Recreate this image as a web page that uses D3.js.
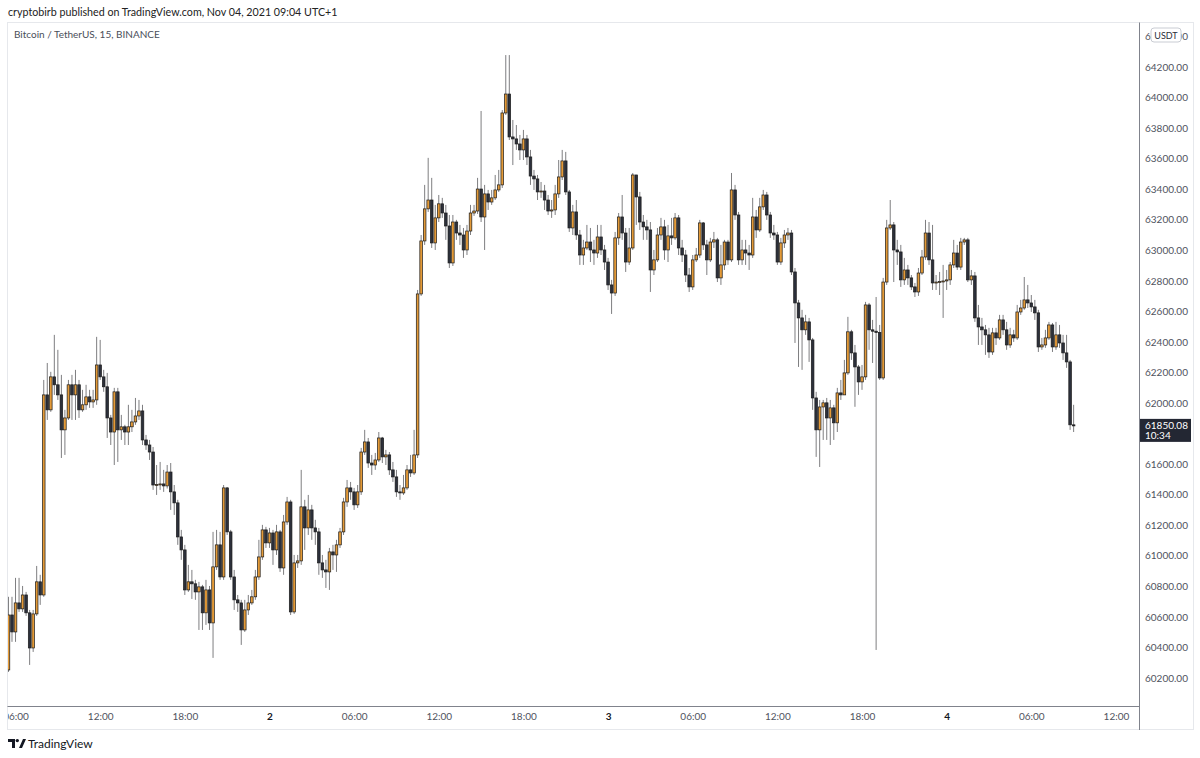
<!DOCTYPE html>
<html>
<head>
<meta charset="utf-8">
<script src="https://cdn.jsdelivr.net/npm/d3@7"></script>
<style>
body{margin:0;background:#fff;}
svg text{font-family:'Lato','Liberation Sans',sans-serif;}
</style>
</head>
<body>
<div id="canvas" class="canvas"></div>
<script>
// BTC/USDT 15m bars (Binance), times in UTC+1
var firstBar = '2021-11-01T05:30';
var firstOpen = 60252;

var closes = [
60612,60501,60691,60652,60743,60626,60396,60619,60829,60743,
62053,61955,62171,62119,62053,61824,61902,62119,62053,62119,
61955,61988,62040,62007,62020,62249,62171,62106,61902,61810,
62073,61824,61844,61810,61844,61876,61915,61948,61758,61725,
61679,61463,61466,61470,61457,61548,61418,61346,61123,61038,
60776,60829,60816,60763,60796,60626,60776,60560,60927,61071,
60861,61444,61156,60861,60711,60691,60514,60645,60691,60731,
60861,60992,61169,61084,61149,61038,61156,60920,61221,61352,
60632,60953,60966,61320,61182,61300,61182,61156,60953,60907,
60894,61025,61005,61071,61156,61352,61444,61418,61333,61418,
61679,61745,61607,61594,61627,61771,61647,61660,61562,61516,
61418,61411,61444,61562,61542,61660,62714,63061,63271,63329,
63048,63212,63304,63244,63159,62917,63185,63113,63100,63002,
63126,63244,63257,63401,63218,63369,63316,63343,63395,63428,
63899,64023,63742,63729,63696,63657,63729,63611,63486,63467,
63382,63388,63329,63257,63264,63369,63480,63585,63382,63146,
63251,63100,62969,63015,63054,63002,62982,63087,63002,62923,
62773,62720,63081,63218,63113,62923,63015,63493,63349,63185,
63153,63133,62871,62937,63100,63153,63002,63094,63081,63212,
63015,62969,62838,62760,62937,62969,63179,63035,62937,63054,
63068,62819,62904,63054,62937,63395,63231,62937,63002,62982,
62969,63218,63133,63284,63362,63231,63113,63100,62923,63048,
63100,63113,62858,62655,62557,62479,62531,62413,62033,61824,
61974,62001,61902,61968,61870,62066,62053,62197,62466,62328,
62236,62138,62171,62642,62479,62470,62462,62164,62792,63146,
63166,63002,62989,62806,62871,62819,62760,62727,62851,62956,
63113,62937,62786,62792,62795,62799,62806,62904,62982,62890,
63054,63068,62806,62832,62557,62498,62479,62446,62334,62459,
62426,62544,62479,62380,62446,62426,62596,62622,62675,62655,
62629,62590,62367,62380,62426,62511,62367,62446,62393,62328,
62269,61857,61850.08
];

var highs = [
60731,60731,60855,60855,60802,60763,60645,60645,60933,60875,
62151,62262,62204,62446,62348,62184,61955,62151,62184,62217,
62151,62086,62119,62086,62086,62433,62413,62217,62197,61922,
62099,62099,61922,61857,61988,61955,62033,62020,61988,61791,
61758,61712,61594,61614,61562,61594,61607,61463,61366,61169,
61071,60940,60907,60842,60829,60809,60842,60802,61156,61169,
61156,61463,61450,61169,60907,60743,60711,60711,60743,60776,
60907,61104,61202,61189,61182,61169,61202,61169,61267,61385,
61366,61005,61005,61562,61366,61398,61333,61235,61182,61005,
60973,61051,61071,61104,61182,61379,61496,61483,61444,61463,
61706,61824,61771,61660,61673,61810,61778,61693,61679,61614,
61562,61463,61529,61594,61660,61824,62740,63100,63428,63605,
63474,63297,63362,63343,63297,63231,63231,63199,63166,63146,
63166,63297,63297,63474,63912,63428,63395,63395,63493,63526,
63918,64278,64278,63853,63820,63755,63788,63755,63657,63526,
63493,63447,63428,63362,63329,63428,63591,63657,63644,63395,
63297,63329,63133,63068,63166,63146,63068,63166,63166,63035,
62950,62806,63120,63244,63362,63146,63146,63506,63493,63382,
63231,63199,63185,63002,63146,63212,63199,63166,63212,63244,
63231,63068,63002,62884,62969,63015,63199,63185,63068,63081,
63120,63081,63035,63068,63068,63506,63428,63251,63068,63068,
63035,63343,63264,63343,63395,63382,63251,63166,63120,63081,
63133,63146,63133,62884,62675,62610,62577,62557,62426,62073,
62020,62020,62033,62020,61988,62099,62151,62282,62564,62479,
62380,62249,62249,62662,62655,62544,62694,62511,62819,63199,
63329,63185,63068,63035,62950,62904,62838,62786,62884,63002,
63199,63185,63166,62838,62858,62904,62871,62923,63068,63035,
63081,63081,63081,62871,62858,62642,62557,62511,62492,62492,
62492,62577,62577,62531,62492,62479,62642,62675,62825,62773,
62707,62675,62610,62426,62479,62531,62524,62531,62511,62446,
62446,62282,61988
];

var lows = [
60239,60436,60436,60632,60632,60606,60285,60370,60606,60678,
60731,61889,61942,62053,62020,61640,61660,61889,61889,61889,
61902,61942,61955,61968,61968,61988,62151,62073,61771,61725,
61594,61614,61758,61725,61725,61810,61857,61889,61725,61693,
61627,61431,61398,61431,61418,61440,61300,61267,61071,60973,
60743,60763,60717,60711,60514,60514,60547,60514,60331,60907,
60842,60842,61136,60842,60645,60632,60416,60501,60612,60678,
60711,60842,60973,61051,61051,60940,61005,60894,60875,61202,
60612,60619,60920,60940,61038,61136,61104,61071,60875,60855,
60789,60776,60907,60894,61051,61136,61320,61366,61300,61313,
61398,61660,61575,61529,61562,61614,61607,61594,61529,61483,
61385,61366,61398,61431,61516,61529,61640,62701,63035,63251,
63015,63002,63185,63212,63068,62884,62897,63068,63035,62950,
62969,63100,63225,63238,63185,63002,63264,63297,63329,63382,
63408,63886,63722,63558,63657,63591,63591,63558,63428,63395,
63329,63343,63264,63231,63212,63231,63343,63460,63362,63120,
63100,63068,62904,62904,63002,62923,62904,62950,62969,62871,
62740,62583,62701,63035,63068,62858,62904,63002,63166,63133,
63068,63068,62727,62838,62923,63068,62937,62923,63035,63068,
62969,62923,62792,62727,62740,62923,62950,63002,62838,62923,
63015,62792,62773,62871,62904,62923,63199,62904,62904,62904,
62871,62950,63081,63120,63264,63199,63081,63068,62904,62904,
63015,63068,62838,62393,62236,62217,62446,62269,61955,61647,
61581,61758,61758,61725,61758,61810,62020,62053,62184,62282,
61975,62053,62086,62151,62348,62262,60383,62151,62151,62773,
63133,62792,62904,62760,62773,62773,62740,62694,62701,62838,
62937,62904,62740,62740,62707,62557,62740,62773,62884,62871,
62871,63035,62792,62773,62531,62380,62380,62315,62295,62315,
62380,62413,62446,62348,62361,62400,62413,62577,62610,62622,
62596,62544,62334,62348,62361,62413,62334,62348,62361,62282,
62230,61824,61810
];

var lastPrice = 61850.08;
var countdown = '10:34';
// 61800 sits under the last-price tag in the snapshot, so it is not drawn
var priceTicks = [60200,60400,60600,60800,61000,61200,61400,61600,62000,
                  62200,62400,62600,62800,63000,63200,63400,63600,63800,64000,64200,64400];
var timeTicks = ['2021-11-01T06:00','2021-11-01T12:00','2021-11-01T18:00',
                 '2021-11-02T00:00','2021-11-02T06:00','2021-11-02T12:00','2021-11-02T18:00',
                 '2021-11-03T00:00','2021-11-03T06:00','2021-11-03T12:00','2021-11-03T18:00',
                 '2021-11-04T00:00','2021-11-04T06:00','2021-11-04T12:00'];
var headerText = 'cryptobirb published on TradingView.com, Nov 04, 2021 09:04 UTC+1';
var legendText = 'Bitcoin / TetherUS, 15, BINANCE';

var upColor = '#e39a38',
    downColor = '#2c303b',
    outline = '#1b1b1b',
    wickColor = '#7e7e80';
var axisFont = "'Lato','Liberation Sans',sans-serif";

//margin convention: pane sits inside the snapshot frame
var m = {t:23, l:8};
var w = 1131, h = 683; //pane ends at x=1139 (price scale), y=706 (time scale)

var svg = d3.select('.canvas')
    .append('svg')
    .attr('width', 1200)
    .attr('height', 758);

var parseTime = d3.utcParse('%Y-%m-%dT%H:%M');
var t0 = parseTime(firstBar);

var bars = closes.map(function(c, i){
    var o = i === 0 ? firstOpen : closes[i-1];
    return {
        t: d3.utcMinute.offset(t0, 15*i),
        o: o,
        c: c,
        h: Math.max(highs[i], o, c),
        l: Math.min(lows[i], o, c)
    };
});

//Scales
var scaleX = d3.scaleUtc()
    .domain([parseTime('2021-11-01T05:28'), parseTime('2021-11-04T13:38')])
    .range([0, w]);
var scaleY = d3.scaleLinear()
    .domain([60016, 64488])
    .range([h, 0]);

var barStep = scaleX(d3.utcMinute.offset(t0, 15)) - scaleX(t0);
var bodyW = barStep * 0.74;

//frame
svg.append('rect')
    .attr('x', 7.5).attr('y', 22.5)
    .attr('width', 1186).attr('height', 707)
    .attr('fill', 'none')
    .attr('stroke', '#e6e8ec');

svg.append('text')
    .attr('x', 8).attr('y', 16)
    .style('font-size', '10.7px')
    .attr('fill', '#222')
    .text(headerText);

svg.append('defs').append('clipPath')
    .attr('id', 'pane')
    .append('rect')
    .attr('width', w).attr('height', h);
svg.select('defs').append('clipPath')
    .attr('id', 'timeClip')
    .append('rect')
    .attr('width', w).attr('height', 24);

var plot = svg.append('g')
    .attr('transform', 'translate(' + m.l + ',' + m.t + ')');

var candles = plot.append('g')
    .attr('clip-path', 'url(#pane)')
    .selectAll('.candle')
    .data(bars)
    .enter()
    .append('g')
    .attr('class', 'candle')
    .attr('transform', function(d){ return 'translate(' + scaleX(d.t) + ',0)'; });

candles.append('line')
    .attr('y1', function(d){ return scaleY(d.h); })
    .attr('y2', function(d){ return scaleY(d.l); })
    .attr('stroke', wickColor)
    .attr('stroke-width', 1);

candles.append('rect')
    .attr('x', -bodyW/2)
    .attr('width', bodyW)
    .attr('y', function(d){ return scaleY(Math.max(d.o, d.c)); })
    .attr('height', function(d){ return Math.max(1, Math.abs(scaleY(d.o) - scaleY(d.c))); })
    .attr('fill', function(d){ return d.c >= d.o ? upColor : downColor; })
    .attr('stroke', outline)
    .attr('stroke-width', 0.7);

plot.append('text')
    .attr('x', 6).attr('y', 15)
    .style('font-size', '10px')
    .attr('fill', '#4a4e59')
    .text(legendText);

//Axis: price scale on the right
var axisY = d3.axisRight()
    .scale(scaleY)
    .tickValues(priceTicks)
    .tickFormat(d3.format('.2f'))
    .tickSize(0)
    .tickPadding(6);

var axisYSel = plot.append('g')
    .attr('class', 'axis axis-y')
    .attr('transform', 'translate(' + w + ',0)')
    .call(axisY);
axisYSel.select('.domain').remove();
axisYSel.selectAll('text')
    .style('font-size', '10px')
    .style('font-family', axisFont)
    .attr('fill', '#50535e');

//Axis: time scale
var fmtHour = d3.utcFormat('%H:%M'),
    fmtDay = d3.utcFormat('%-d');
var axisX = d3.axisBottom()
    .scale(scaleX)
    .tickValues(timeTicks.map(parseTime))
    .tickFormat(function(d){ return d.getUTCHours() === 0 ? fmtDay(d) : fmtHour(d); })
    .tickSize(0)
    .tickPadding(7);

var axisXSel = plot.append('g')
    .attr('transform', 'translate(0,' + h + ')')
    .append('g')
    .attr('clip-path', 'url(#timeClip)')
    .append('g')
    .attr('class', 'axis axis-x')
    .call(axisX);
axisXSel.select('.domain').remove();
axisXSel.selectAll('text')
    .style('font-size', '10px')
    .style('font-family', axisFont)
    .attr('fill', function(d){ return d.getUTCHours() === 0 ? '#131722' : '#50535e'; })
    .style('font-weight', function(d){ return d.getUTCHours() === 0 ? 'bold' : 'normal'; });

//scale borders
plot.append('line')
    .attr('x1', -0.5).attr('x2', w + 0.5)
    .attr('y1', h + 0.5).attr('y2', h + 0.5)
    .attr('stroke', '#80838c');
plot.append('line')
    .attr('x1', w + 0.5).attr('x2', w + 0.5)
    .attr('y1', -0.5).attr('y2', h + 24)
    .attr('stroke', '#80838c');

//currency badge over the top tick
var badge = plot.append('g')
    .attr('transform', 'translate(' + (w + 12) + ',5)');
badge.append('rect')
    .attr('width', 30).attr('height', 14).attr('rx', 3)
    .attr('fill', '#fff')
    .attr('stroke', '#c9ccd3');
badge.append('text')
    .attr('x', 15).attr('y', 10.5)
    .attr('text-anchor', 'middle')
    .style('font-size', '9px')
    .attr('fill', '#2a2e39')
    .text('USDT');

//last price label with countdown
var lastY = scaleY(lastPrice);
var tag = plot.append('g')
    .attr('transform', 'translate(' + (w + 1) + ',' + (lastY - 7) + ')');
tag.append('rect')
    .attr('width', 51).attr('height', 23)
    .attr('fill', '#232733');
tag.append('text')
    .attr('x', 5).attr('y', 10)
    .style('font-size', '10px')
    .attr('fill', '#fff')
    .text(d3.format('.2f')(lastPrice));
tag.append('text')
    .attr('x', 5).attr('y', 20.5)
    .style('font-size', '10px')
    .attr('fill', '#fff')
    .text(countdown);

//TradingView mark at the bottom
var logo = svg.append('g')
    .attr('transform', 'translate(8,738)');
logo.append('path')
    .attr('d', 'M0,1h7v9h-3v-6h-4z M11,10l4-9h3l-4,9z')
    .attr('fill', '#131722');
logo.append('circle')
    .attr('cx', 9.3).attr('cy', 2.6).attr('r', 1.7)
    .attr('fill', '#131722');
logo.append('text')
    .attr('x', 20).attr('y', 10)
    .style('font-size', '12px')
    .attr('fill', '#131722')
    .text('TradingView');
</script>
</body>
</html>
